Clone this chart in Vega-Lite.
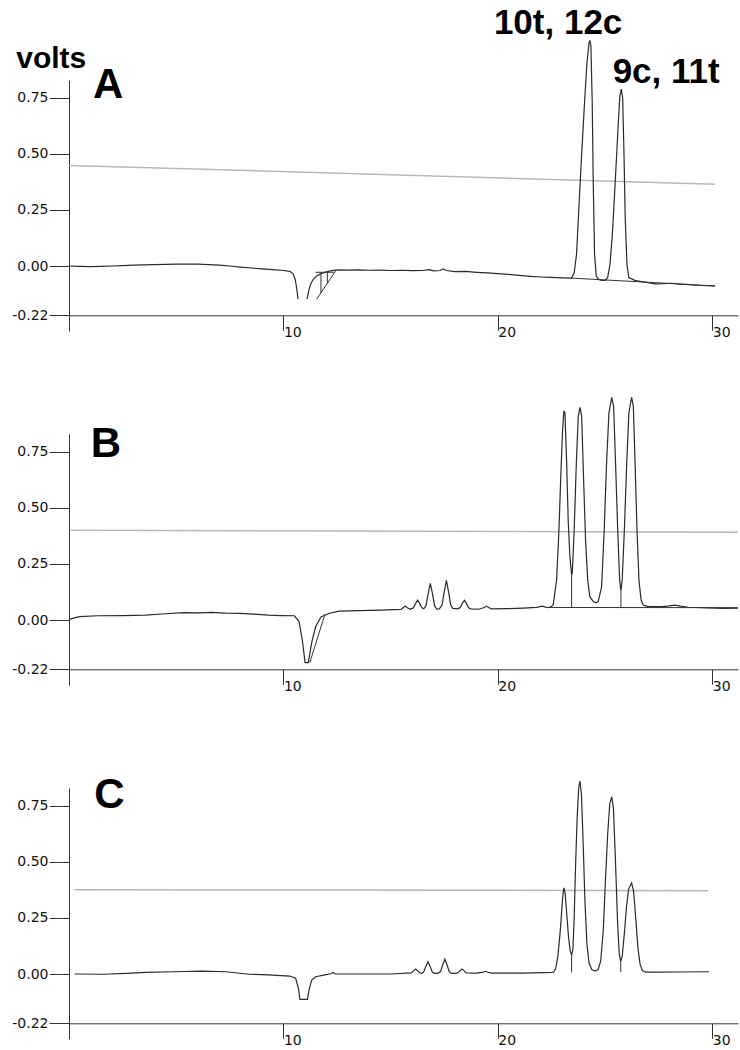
{
  "$schema": "https://vega.github.io/schema/vega-lite/v6.json",
  "background": "white",
  "padding": {"left": 11, "top": 5, "right": 0, "bottom": 0},
  "bounds": "flush",
  "spacing": 103,
  "config": {
    "view": {"stroke": null},
    "axis": {"grid": false, "title": null, "domainColor": "#333333", "tickColor": "#333333", "labelColor": "#111111", "labelFont": "DejaVu Sans", "labelFontSize": 14, "domainWidth": 1, "tickWidth": 1}
  },
  "datasets": {
    "ref": [
      {"p": "A", "t": 0, "v": 0.449}, {"p": "A", "t": 30.13, "v": 0.365},
      {"p": "B", "t": 0.1, "v": 0.4}, {"p": "B", "t": 31.2, "v": 0.392},
      {"p": "C", "t": 0.26, "v": 0.376}, {"p": "C", "t": 29.8, "v": 0.372}
    ],
    "rules": [
      {"p": "A", "t": 11.55, "v": -0.148, "t2": 12.45, "v2": -0.02},
      {"p": "A", "t": 11.5, "v": -0.028, "t2": 12.35, "v2": -0.028},
      {"p": "A", "t": 11.75, "v": -0.028, "t2": 11.75, "v2": -0.12},
      {"p": "A", "t": 12.05, "v": -0.028, "t2": 12.05, "v2": -0.077},
      {"p": "A", "t": 23.44, "v": -0.054, "t2": 30.13, "v2": -0.089},
      {"p": "B", "t": 11.23, "v": -0.19, "t2": 11.94, "v2": 0.027},
      {"p": "B", "t": 22.3, "v": 0.056, "t2": 31.2, "v2": 0.055},
      {"p": "B", "t": 23.44, "v": 0.201, "t2": 23.44, "v2": 0.056},
      {"p": "B", "t": 25.74, "v": 0.131, "t2": 25.74, "v2": 0.056},
      {"p": "C", "t": 23.44, "v": 0.085, "t2": 23.44, "v2": 0.007},
      {"p": "C", "t": 25.73, "v": 0.055, "t2": 25.73, "v2": 0.008}
    ],
    "labels": [
      {"p": "A", "k": "unit", "label": "volts", "t": -2.46, "v": 0.884},
      {"p": "A", "k": "letter", "label": "A", "t": 1.12, "v": 0.749},
      {"p": "B", "k": "letter", "label": "B", "t": 1.02, "v": 0.729},
      {"p": "C", "k": "letter", "label": "C", "t": 1.18, "v": 0.74},
      {"p": "A", "k": "peak", "label": "10t, 12c", "t": 22.81, "v": 1.036},
      {"p": "A", "k": "peak", "label": "9c, 11t", "t": 27.85, "v": 0.817}
    ],
    "trace": [
      {"p":"A","s":"a1","t":0,"v":0.0},{"p":"A","s":"a1","t":0.5,"v":-0.002},{"p":"A","s":"a1","t":1,"v":-0.003},{"p":"A","s":"a1","t":1.5,"v":-0.002},{"p":"A","s":"a1","t":2,"v":0.0},{"p":"A","s":"a1","t":2.5,"v":0.002},{"p":"A","s":"a1","t":3,"v":0.004},{"p":"A","s":"a1","t":3.5,"v":0.005},{"p":"A","s":"a1","t":4,"v":0.006},{"p":"A","s":"a1","t":4.5,"v":0.007},{"p":"A","s":"a1","t":5,"v":0.008},{"p":"A","s":"a1","t":5.5,"v":0.009},{"p":"A","s":"a1","t":6,"v":0.008},{"p":"A","s":"a1","t":6.5,"v":0.006},{"p":"A","s":"a1","t":7,"v":0.004},{"p":"A","s":"a1","t":7.5,"v":0.0},{"p":"A","s":"a1","t":8,"v":-0.005},{"p":"A","s":"a1","t":8.5,"v":-0.009},{"p":"A","s":"a1","t":9,"v":-0.013},{"p":"A","s":"a1","t":9.5,"v":-0.016},{"p":"A","s":"a1","t":10,"v":-0.02},{"p":"A","s":"a1","t":10.3,"v":-0.024},{"p":"A","s":"a1","t":10.45,"v":-0.035},{"p":"A","s":"a1","t":10.55,"v":-0.06},{"p":"A","s":"a1","t":10.62,"v":-0.1},{"p":"A","s":"a1","t":10.68,"v":-0.148},
      {"p":"A","s":"a2","t":11.1,"v":-0.148},{"p":"A","s":"a2","t":11.18,"v":-0.11},{"p":"A","s":"a2","t":11.27,"v":-0.08},{"p":"A","s":"a2","t":11.4,"v":-0.058},{"p":"A","s":"a2","t":11.55,"v":-0.045},{"p":"A","s":"a2","t":11.75,"v":-0.034},{"p":"A","s":"a2","t":12.0,"v":-0.026},{"p":"A","s":"a2","t":12.2,"v":-0.022},{"p":"A","s":"a2","t":12.4,"v":-0.018},{"p":"A","s":"a2","t":12.6,"v":-0.017},{"p":"A","s":"a2","t":13,"v":-0.018},{"p":"A","s":"a2","t":13.5,"v":-0.017},{"p":"A","s":"a2","t":14,"v":-0.019},{"p":"A","s":"a2","t":14.5,"v":-0.018},{"p":"A","s":"a2","t":15,"v":-0.02},{"p":"A","s":"a2","t":15.5,"v":-0.019},{"p":"A","s":"a2","t":16,"v":-0.021},{"p":"A","s":"a2","t":16.5,"v":-0.02},{"p":"A","s":"a2","t":16.8,"v":-0.016},{"p":"A","s":"a2","t":17,"v":-0.022},{"p":"A","s":"a2","t":17.3,"v":-0.02},{"p":"A","s":"a2","t":17.45,"v":-0.013},{"p":"A","s":"a2","t":17.6,"v":-0.02},{"p":"A","s":"a2","t":18,"v":-0.025},{"p":"A","s":"a2","t":18.5,"v":-0.024},{"p":"A","s":"a2","t":19,"v":-0.028},{"p":"A","s":"a2","t":19.5,"v":-0.031},{"p":"A","s":"a2","t":20,"v":-0.034},{"p":"A","s":"a2","t":20.5,"v":-0.037},{"p":"A","s":"a2","t":21,"v":-0.042},{"p":"A","s":"a2","t":21.5,"v":-0.046},{"p":"A","s":"a2","t":22,"v":-0.049},{"p":"A","s":"a2","t":22.5,"v":-0.051},{"p":"A","s":"a2","t":23,"v":-0.053},{"p":"A","s":"a2","t":23.44,"v":-0.054},{"p":"A","s":"a2","t":23.56,"v":-0.03},{"p":"A","s":"a2","t":23.67,"v":0.052},{"p":"A","s":"a2","t":23.78,"v":0.26},{"p":"A","s":"a2","t":23.9,"v":0.483},{"p":"A","s":"a2","t":24.03,"v":0.707},{"p":"A","s":"a2","t":24.15,"v":0.9},{"p":"A","s":"a2","t":24.25,"v":0.993},{"p":"A","s":"a2","t":24.29,"v":1.007},{"p":"A","s":"a2","t":24.34,"v":0.982},{"p":"A","s":"a2","t":24.4,"v":0.737},{"p":"A","s":"a2","t":24.45,"v":0.365},{"p":"A","s":"a2","t":24.51,"v":0.052},{"p":"A","s":"a2","t":24.59,"v":-0.045},{"p":"A","s":"a2","t":24.71,"v":-0.06},{"p":"A","s":"a2","t":24.85,"v":-0.064},{"p":"A","s":"a2","t":25.0,"v":-0.064},{"p":"A","s":"a2","t":25.12,"v":-0.052},{"p":"A","s":"a2","t":25.23,"v":0.007},{"p":"A","s":"a2","t":25.34,"v":0.141},{"p":"A","s":"a2","t":25.46,"v":0.35},{"p":"A","s":"a2","t":25.59,"v":0.588},{"p":"A","s":"a2","t":25.69,"v":0.759},{"p":"A","s":"a2","t":25.76,"v":0.789},{"p":"A","s":"a2","t":25.82,"v":0.751},{"p":"A","s":"a2","t":25.88,"v":0.513},{"p":"A","s":"a2","t":25.94,"v":0.216},{"p":"A","s":"a2","t":26.02,"v":0.007},{"p":"A","s":"a2","t":26.11,"v":-0.052},{"p":"A","s":"a2","t":26.39,"v":-0.064},{"p":"A","s":"a2","t":26.7,"v":-0.07},{"p":"A","s":"a2","t":27.02,"v":-0.074},{"p":"A","s":"a2","t":27.33,"v":-0.08},{"p":"A","s":"a2","t":27.7,"v":-0.079},{"p":"A","s":"a2","t":28.1,"v":-0.077},{"p":"A","s":"a2","t":28.5,"v":-0.081},{"p":"A","s":"a2","t":28.88,"v":-0.083},{"p":"A","s":"a2","t":29.5,"v":-0.087},{"p":"A","s":"a2","t":30.13,"v":-0.089},
      {"p":"B","s":"b1","t":0,"v":0.003},{"p":"B","s":"b1","t":0.48,"v":0.015},{"p":"B","s":"b1","t":1.37,"v":0.019},{"p":"B","s":"b1","t":2.5,"v":0.02},{"p":"B","s":"b1","t":3.57,"v":0.022},{"p":"B","s":"b1","t":4.5,"v":0.028},{"p":"B","s":"b1","t":5.33,"v":0.033},{"p":"B","s":"b1","t":6.0,"v":0.032},{"p":"B","s":"b1","t":6.65,"v":0.034},{"p":"B","s":"b1","t":7.3,"v":0.031},{"p":"B","s":"b1","t":7.97,"v":0.03},{"p":"B","s":"b1","t":8.6,"v":0.026},{"p":"B","s":"b1","t":9.3,"v":0.022},{"p":"B","s":"b1","t":9.9,"v":0.02},{"p":"B","s":"b1","t":10.51,"v":0.019},{"p":"B","s":"b1","t":10.73,"v":-0.007},{"p":"B","s":"b1","t":10.88,"v":-0.089},{"p":"B","s":"b1","t":11.01,"v":-0.19},{"p":"B","s":"b1","t":11.16,"v":-0.19},{"p":"B","s":"b1","t":11.32,"v":-0.1},{"p":"B","s":"b1","t":11.5,"v":-0.03},{"p":"B","s":"b1","t":11.76,"v":0.015},{"p":"B","s":"b1","t":12.16,"v":0.03},{"p":"B","s":"b1","t":12.6,"v":0.04},{"p":"B","s":"b1","t":13.5,"v":0.042},{"p":"B","s":"b1","t":14.54,"v":0.044},{"p":"B","s":"b1","t":15.2,"v":0.046},{"p":"B","s":"b1","t":15.48,"v":0.047},{"p":"B","s":"b1","t":15.58,"v":0.055},{"p":"B","s":"b1","t":15.68,"v":0.062},{"p":"B","s":"b1","t":15.78,"v":0.055},{"p":"B","s":"b1","t":15.9,"v":0.048},{"p":"B","s":"b1","t":16.06,"v":0.054},{"p":"B","s":"b1","t":16.16,"v":0.073},{"p":"B","s":"b1","t":16.26,"v":0.089},{"p":"B","s":"b1","t":16.36,"v":0.073},{"p":"B","s":"b1","t":16.46,"v":0.054},{"p":"B","s":"b1","t":16.55,"v":0.05},{"p":"B","s":"b1","t":16.65,"v":0.064},{"p":"B","s":"b1","t":16.75,"v":0.118},{"p":"B","s":"b1","t":16.85,"v":0.163},{"p":"B","s":"b1","t":16.95,"v":0.118},{"p":"B","s":"b1","t":17.05,"v":0.064},{"p":"B","s":"b1","t":17.15,"v":0.049},{"p":"B","s":"b1","t":17.27,"v":0.05},{"p":"B","s":"b1","t":17.4,"v":0.067},{"p":"B","s":"b1","t":17.5,"v":0.127},{"p":"B","s":"b1","t":17.6,"v":0.177},{"p":"B","s":"b1","t":17.7,"v":0.127},{"p":"B","s":"b1","t":17.8,"v":0.067},{"p":"B","s":"b1","t":17.9,"v":0.052},{"p":"B","s":"b1","t":18.1,"v":0.05},{"p":"B","s":"b1","t":18.24,"v":0.055},{"p":"B","s":"b1","t":18.34,"v":0.073},{"p":"B","s":"b1","t":18.44,"v":0.088},{"p":"B","s":"b1","t":18.54,"v":0.073},{"p":"B","s":"b1","t":18.64,"v":0.055},{"p":"B","s":"b1","t":18.74,"v":0.05},{"p":"B","s":"b1","t":19.1,"v":0.048},{"p":"B","s":"b1","t":19.37,"v":0.056},{"p":"B","s":"b1","t":19.47,"v":0.062},{"p":"B","s":"b1","t":19.57,"v":0.056},{"p":"B","s":"b1","t":19.7,"v":0.05},{"p":"B","s":"b1","t":20.5,"v":0.051},{"p":"B","s":"b1","t":21.19,"v":0.053},{"p":"B","s":"b1","t":21.8,"v":0.056},{"p":"B","s":"b1","t":22.07,"v":0.062},{"p":"B","s":"b1","t":22.3,"v":0.055},{"p":"B","s":"b1","t":22.45,"v":0.058},{"p":"B","s":"b1","t":22.58,"v":0.067},{"p":"B","s":"b1","t":22.74,"v":0.179},{"p":"B","s":"b1","t":22.85,"v":0.402},{"p":"B","s":"b1","t":22.94,"v":0.655},{"p":"B","s":"b1","t":23.02,"v":0.848},{"p":"B","s":"b1","t":23.08,"v":0.934},{"p":"B","s":"b1","t":23.13,"v":0.923},{"p":"B","s":"b1","t":23.21,"v":0.699},{"p":"B","s":"b1","t":23.28,"v":0.446},{"p":"B","s":"b1","t":23.36,"v":0.283},{"p":"B","s":"b1","t":23.44,"v":0.201},{"p":"B","s":"b1","t":23.47,"v":0.208},{"p":"B","s":"b1","t":23.56,"v":0.402},{"p":"B","s":"b1","t":23.66,"v":0.699},{"p":"B","s":"b1","t":23.75,"v":0.908},{"p":"B","s":"b1","t":23.83,"v":0.949},{"p":"B","s":"b1","t":23.91,"v":0.908},{"p":"B","s":"b1","t":24.0,"v":0.625},{"p":"B","s":"b1","t":24.09,"v":0.357},{"p":"B","s":"b1","t":24.19,"v":0.179},{"p":"B","s":"b1","t":24.29,"v":0.104},{"p":"B","s":"b1","t":24.45,"v":0.082},{"p":"B","s":"b1","t":24.57,"v":0.077},{"p":"B","s":"b1","t":24.68,"v":0.082},{"p":"B","s":"b1","t":24.84,"v":0.149},{"p":"B","s":"b1","t":24.96,"v":0.402},{"p":"B","s":"b1","t":25.07,"v":0.699},{"p":"B","s":"b1","t":25.18,"v":0.923},{"p":"B","s":"b1","t":25.31,"v":0.994},{"p":"B","s":"b1","t":25.4,"v":0.952},{"p":"B","s":"b1","t":25.49,"v":0.699},{"p":"B","s":"b1","t":25.59,"v":0.402},{"p":"B","s":"b1","t":25.68,"v":0.179},{"p":"B","s":"b1","t":25.74,"v":0.131},{"p":"B","s":"b1","t":25.8,"v":0.179},{"p":"B","s":"b1","t":25.9,"v":0.402},{"p":"B","s":"b1","t":26.01,"v":0.699},{"p":"B","s":"b1","t":26.11,"v":0.923},{"p":"B","s":"b1","t":26.24,"v":0.994},{"p":"B","s":"b1","t":26.32,"v":0.952},{"p":"B","s":"b1","t":26.4,"v":0.699},{"p":"B","s":"b1","t":26.49,"v":0.402},{"p":"B","s":"b1","t":26.58,"v":0.179},{"p":"B","s":"b1","t":26.68,"v":0.089},{"p":"B","s":"b1","t":26.78,"v":0.067},{"p":"B","s":"b1","t":27.02,"v":0.06},{"p":"B","s":"b1","t":27.64,"v":0.06},{"p":"B","s":"b1","t":28.0,"v":0.063},{"p":"B","s":"b1","t":28.26,"v":0.066},{"p":"B","s":"b1","t":28.5,"v":0.062},{"p":"B","s":"b1","t":28.88,"v":0.057},{"p":"B","s":"b1","t":29.82,"v":0.054},{"p":"B","s":"b1","t":30.5,"v":0.052},{"p":"B","s":"b1","t":31.2,"v":0.053},
      {"p":"C","s":"c1","t":0.26,"v":0.0},{"p":"C","s":"c1","t":1.59,"v":-0.001},{"p":"C","s":"c1","t":2.69,"v":0.003},{"p":"C","s":"c1","t":3.57,"v":0.007},{"p":"C","s":"c1","t":4.89,"v":0.01},{"p":"C","s":"c1","t":6.21,"v":0.013},{"p":"C","s":"c1","t":7.31,"v":0.01},{"p":"C","s":"c1","t":8.41,"v":-0.001},{"p":"C","s":"c1","t":9.3,"v":-0.004},{"p":"C","s":"c1","t":10.29,"v":-0.009},{"p":"C","s":"c1","t":10.57,"v":-0.019},{"p":"C","s":"c1","t":10.7,"v":-0.064},{"p":"C","s":"c1","t":10.77,"v":-0.113},{"p":"C","s":"c1","t":11.12,"v":-0.113},{"p":"C","s":"c1","t":11.21,"v":-0.064},{"p":"C","s":"c1","t":11.32,"v":-0.027},{"p":"C","s":"c1","t":11.5,"v":-0.012},{"p":"C","s":"c1","t":11.94,"v":-0.004},{"p":"C","s":"c1","t":12.2,"v":0.001},{"p":"C","s":"c1","t":12.31,"v":0.007},{"p":"C","s":"c1","t":12.42,"v":0.0},{"p":"C","s":"c1","t":13.7,"v":0.0},{"p":"C","s":"c1","t":15.02,"v":0.0},{"p":"C","s":"c1","t":15.97,"v":0.005},{"p":"C","s":"c1","t":16.07,"v":0.014},{"p":"C","s":"c1","t":16.17,"v":0.022},{"p":"C","s":"c1","t":16.27,"v":0.014},{"p":"C","s":"c1","t":16.37,"v":0.005},{"p":"C","s":"c1","t":16.46,"v":0.003},{"p":"C","s":"c1","t":16.54,"v":0.009},{"p":"C","s":"c1","t":16.64,"v":0.034},{"p":"C","s":"c1","t":16.74,"v":0.055},{"p":"C","s":"c1","t":16.84,"v":0.034},{"p":"C","s":"c1","t":16.94,"v":0.009},{"p":"C","s":"c1","t":17.04,"v":0.003},{"p":"C","s":"c1","t":17.2,"v":0.003},{"p":"C","s":"c1","t":17.33,"v":0.011},{"p":"C","s":"c1","t":17.43,"v":0.041},{"p":"C","s":"c1","t":17.53,"v":0.066},{"p":"C","s":"c1","t":17.63,"v":0.041},{"p":"C","s":"c1","t":17.73,"v":0.011},{"p":"C","s":"c1","t":17.83,"v":0.003},{"p":"C","s":"c1","t":18.0,"v":0.003},{"p":"C","s":"c1","t":18.13,"v":0.005},{"p":"C","s":"c1","t":18.23,"v":0.014},{"p":"C","s":"c1","t":18.33,"v":0.022},{"p":"C","s":"c1","t":18.43,"v":0.014},{"p":"C","s":"c1","t":18.53,"v":0.005},{"p":"C","s":"c1","t":19.0,"v":0.004},{"p":"C","s":"c1","t":19.33,"v":0.008},{"p":"C","s":"c1","t":19.43,"v":0.012},{"p":"C","s":"c1","t":19.53,"v":0.008},{"p":"C","s":"c1","t":19.7,"v":0.004},{"p":"C","s":"c1","t":21.19,"v":0.004},{"p":"C","s":"c1","t":22.51,"v":0.007},{"p":"C","s":"c1","t":22.6,"v":0.008},{"p":"C","s":"c1","t":22.7,"v":0.025},{"p":"C","s":"c1","t":22.8,"v":0.08},{"p":"C","s":"c1","t":22.9,"v":0.18},{"p":"C","s":"c1","t":22.97,"v":0.27},{"p":"C","s":"c1","t":23.03,"v":0.35},{"p":"C","s":"c1","t":23.08,"v":0.384},{"p":"C","s":"c1","t":23.14,"v":0.36},{"p":"C","s":"c1","t":23.22,"v":0.26},{"p":"C","s":"c1","t":23.3,"v":0.16},{"p":"C","s":"c1","t":23.38,"v":0.1},{"p":"C","s":"c1","t":23.44,"v":0.085},{"p":"C","s":"c1","t":23.5,"v":0.11},{"p":"C","s":"c1","t":23.56,"v":0.25},{"p":"C","s":"c1","t":23.63,"v":0.5},{"p":"C","s":"c1","t":23.7,"v":0.7},{"p":"C","s":"c1","t":23.77,"v":0.83},{"p":"C","s":"c1","t":23.83,"v":0.861},{"p":"C","s":"c1","t":23.9,"v":0.8},{"p":"C","s":"c1","t":23.98,"v":0.58},{"p":"C","s":"c1","t":24.06,"v":0.33},{"p":"C","s":"c1","t":24.15,"v":0.14},{"p":"C","s":"c1","t":24.25,"v":0.05},{"p":"C","s":"c1","t":24.38,"v":0.02},{"p":"C","s":"c1","t":24.55,"v":0.013},{"p":"C","s":"c1","t":24.68,"v":0.02},{"p":"C","s":"c1","t":24.8,"v":0.06},{"p":"C","s":"c1","t":24.92,"v":0.2},{"p":"C","s":"c1","t":25.02,"v":0.42},{"p":"C","s":"c1","t":25.12,"v":0.62},{"p":"C","s":"c1","t":25.22,"v":0.76},{"p":"C","s":"c1","t":25.31,"v":0.79},{"p":"C","s":"c1","t":25.39,"v":0.74},{"p":"C","s":"c1","t":25.48,"v":0.52},{"p":"C","s":"c1","t":25.58,"v":0.24},{"p":"C","s":"c1","t":25.66,"v":0.09},{"p":"C","s":"c1","t":25.73,"v":0.055},{"p":"C","s":"c1","t":25.8,"v":0.08},{"p":"C","s":"c1","t":25.9,"v":0.18},{"p":"C","s":"c1","t":26.0,"v":0.3},{"p":"C","s":"c1","t":26.1,"v":0.38},{"p":"C","s":"c1","t":26.24,"v":0.406},{"p":"C","s":"c1","t":26.33,"v":0.37},{"p":"C","s":"c1","t":26.43,"v":0.25},{"p":"C","s":"c1","t":26.53,"v":0.12},{"p":"C","s":"c1","t":26.63,"v":0.045},{"p":"C","s":"c1","t":26.74,"v":0.015},{"p":"C","s":"c1","t":26.9,"v":0.008},{"p":"C","s":"c1","t":27.5,"v":0.008},{"p":"C","s":"c1","t":28.5,"v":0.009},{"p":"C","s":"c1","t":29.85,"v":0.01}
    ]
  },
  "vconcat": [
    {
      "width": 669, "height": 251,
      "encoding": {
        "x": {"field": "t", "type": "quantitative", "scale": {"domain": [0, 31.2], "nice": false, "zero": false}, "axis": {"values": [10, 20, 30], "offset": -15.7, "tickSize": 15, "labelPadding": -5, "labelAlign": "left", "labelBaseline": "top", "labelDx": 2}},
        "y": {"field": "v", "type": "quantitative", "scale": {"domain": [-0.29, 0.83], "nice": false, "zero": false}, "axis": {"values": [-0.22, 0, 0.25, 0.5, 0.75], "labelExpr": "datum.value < 0 ? '-0.22' : format(datum.value, '.2f')", "tickSize": 20, "labelPadding": 1}}
      },
      "layer": [
        {"data": {"name": "ref"}, "transform": [{"filter": "datum.p == 'A'"}], "mark": {"type": "line", "color": "#b8b8b8", "strokeWidth": 1.5}, "encoding": {"detail": {"field": "p"}}},
        {"data": {"name": "trace"}, "transform": [{"filter": "datum.p == 'A'"}], "mark": {"type": "line", "color": "#2b2b2b", "strokeWidth": 1.2}, "encoding": {"detail": {"field": "s"}}},
        {"data": {"name": "rules"}, "transform": [{"filter": "datum.p == 'A'"}], "mark": {"type": "rule", "color": "#333333", "strokeWidth": 1}, "encoding": {"x2": {"field": "t2"}, "y2": {"field": "v2"}}},
        {"data": {"name": "labels"}, "transform": [{"filter": "datum.p == 'A' && datum.k == 'unit'"}], "mark": {"type": "text", "font": "Liberation Sans", "fontWeight": "bold", "fontSize": 30, "align": "left", "baseline": "alphabetic", "color": "#000000"}, "encoding": {"text": {"field": "label"}}},
        {"data": {"name": "labels"}, "transform": [{"filter": "datum.p == 'A' && datum.k == 'letter'"}], "mark": {"type": "text", "font": "Liberation Sans", "fontWeight": "bold", "fontSize": 42, "align": "left", "baseline": "alphabetic", "color": "#000000"}, "encoding": {"text": {"field": "label"}}},
        {"data": {"name": "labels"}, "transform": [{"filter": "datum.p == 'A' && datum.k == 'peak'"}], "mark": {"type": "text", "font": "Liberation Sans", "fontWeight": "bold", "fontSize": 35, "align": "center", "baseline": "alphabetic", "color": "#000000"}, "encoding": {"text": {"field": "label"}}}
      ]
    },
    {
      "width": 669, "height": 251,
      "encoding": {
        "x": {"field": "t", "type": "quantitative", "scale": {"domain": [0, 31.2], "nice": false, "zero": false}, "axis": {"values": [10, 20, 30], "offset": -15.7, "tickSize": 15, "labelPadding": -5, "labelAlign": "left", "labelBaseline": "top", "labelDx": 2}},
        "y": {"field": "v", "type": "quantitative", "scale": {"domain": [-0.29, 0.83], "nice": false, "zero": false}, "axis": {"values": [-0.22, 0, 0.25, 0.5, 0.75], "labelExpr": "datum.value < 0 ? '-0.22' : format(datum.value, '.2f')", "tickSize": 20, "labelPadding": 1}}
      },
      "layer": [
        {"data": {"name": "ref"}, "transform": [{"filter": "datum.p == 'B'"}], "mark": {"type": "line", "color": "#b8b8b8", "strokeWidth": 1.5}, "encoding": {"detail": {"field": "p"}}},
        {"data": {"name": "trace"}, "transform": [{"filter": "datum.p == 'B'"}], "mark": {"type": "line", "color": "#2b2b2b", "strokeWidth": 1.2}, "encoding": {"detail": {"field": "s"}}},
        {"data": {"name": "rules"}, "transform": [{"filter": "datum.p == 'B'"}], "mark": {"type": "rule", "color": "#333333", "strokeWidth": 1}, "encoding": {"x2": {"field": "t2"}, "y2": {"field": "v2"}}},
        {"data": {"name": "labels"}, "transform": [{"filter": "datum.p == 'B' && datum.k == 'letter'"}], "mark": {"type": "text", "font": "Liberation Sans", "fontWeight": "bold", "fontSize": 42, "align": "left", "baseline": "alphabetic", "color": "#000000"}, "encoding": {"text": {"field": "label"}}}
      ]
    },
    {
      "width": 669, "height": 251,
      "encoding": {
        "x": {"field": "t", "type": "quantitative", "scale": {"domain": [0, 31.2], "nice": false, "zero": false}, "axis": {"values": [10, 20, 30], "offset": -15.7, "tickSize": 15, "labelPadding": -5, "labelAlign": "left", "labelBaseline": "top", "labelDx": 2}},
        "y": {"field": "v", "type": "quantitative", "scale": {"domain": [-0.29, 0.83], "nice": false, "zero": false}, "axis": {"values": [-0.22, 0, 0.25, 0.5, 0.75], "labelExpr": "datum.value < 0 ? '-0.22' : format(datum.value, '.2f')", "tickSize": 20, "labelPadding": 1}}
      },
      "layer": [
        {"data": {"name": "ref"}, "transform": [{"filter": "datum.p == 'C'"}], "mark": {"type": "line", "color": "#b8b8b8", "strokeWidth": 1.5}, "encoding": {"detail": {"field": "p"}}},
        {"data": {"name": "trace"}, "transform": [{"filter": "datum.p == 'C'"}], "mark": {"type": "line", "color": "#2b2b2b", "strokeWidth": 1.2}, "encoding": {"detail": {"field": "s"}}},
        {"data": {"name": "rules"}, "transform": [{"filter": "datum.p == 'C'"}], "mark": {"type": "rule", "color": "#333333", "strokeWidth": 1}, "encoding": {"x2": {"field": "t2"}, "y2": {"field": "v2"}}},
        {"data": {"name": "labels"}, "transform": [{"filter": "datum.p == 'C' && datum.k == 'letter'"}], "mark": {"type": "text", "font": "Liberation Sans", "fontWeight": "bold", "fontSize": 42, "align": "left", "baseline": "alphabetic", "color": "#000000"}, "encoding": {"text": {"field": "label"}}}
      ]
    }
  ]
}
